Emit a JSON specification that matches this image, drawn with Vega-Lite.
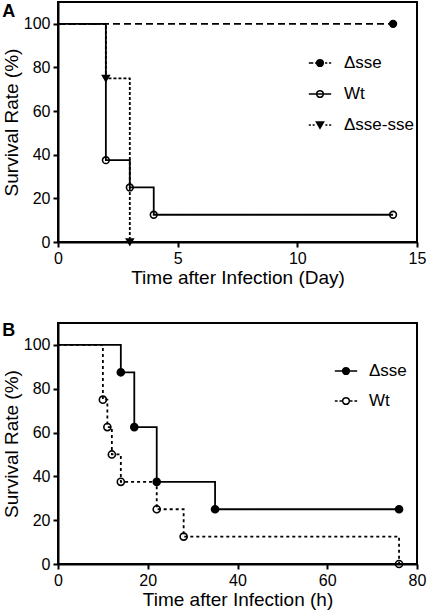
{
  "$schema": "https://vega.github.io/schema/vega-lite/v6.json",
  "padding": {"left": 1, "top": 1, "right": 0, "bottom": 0},
  "spacing": 33,
  "datasets": {
    "a": [
      {"group": "Δsse", "t": 0, "s": 100},
      {"group": "Δsse", "t": 14, "s": 100},
      {"group": "Δsse-sse", "t": 0, "s": 100},
      {"group": "Δsse-sse", "t": 2, "s": 75},
      {"group": "Δsse-sse", "t": 3, "s": 0},
      {"group": "Wt", "t": 0, "s": 100},
      {"group": "Wt", "t": 2, "s": 37.5},
      {"group": "Wt", "t": 3, "s": 25},
      {"group": "Wt", "t": 4, "s": 12.5},
      {"group": "Wt", "t": 14, "s": 12.5}
    ],
    "b": [
      {"group": "Δsse", "t": 0, "s": 100},
      {"group": "Δsse", "t": 14, "s": 87.5},
      {"group": "Δsse", "t": 17, "s": 62.5},
      {"group": "Δsse", "t": 22, "s": 37.5},
      {"group": "Δsse", "t": 35, "s": 25},
      {"group": "Δsse", "t": 76, "s": 25},
      {"group": "Wt", "t": 0, "s": 100},
      {"group": "Wt", "t": 10, "s": 75},
      {"group": "Wt", "t": 11, "s": 62.5},
      {"group": "Wt", "t": 12, "s": 50},
      {"group": "Wt", "t": 14, "s": 37.5},
      {"group": "Wt", "t": 22, "s": 25},
      {"group": "Wt", "t": 28, "s": 12.5},
      {"group": "Wt", "t": 76, "s": 0}
    ]
  },
  "resolve": {
    "scale": {"shape": "independent", "fill": "independent"},
    "legend": {"shape": "independent", "fill": "independent"}
  },
  "vconcat": [
    {
      "width": 359,
      "height": 240,
      "title": {"text": "A", "anchor": "start", "frame": "bounds", "dy": 23},
      "data": {"name": "a"},
      "layer": [
        {
          "mark": {"type": "line", "interpolate": "step-after", "color": "black", "strokeWidth": 1.8},
          "encoding": {
            "x": {"field": "t", "type": "quantitative", "scale": {"domain": [0, 15], "nice": false},
                  "axis": {"values": [0, 5, 10, 15], "title": "Time after Infection  (Day)"}},
            "y": {"field": "s", "type": "quantitative", "scale": {"domain": [0, 110], "nice": false},
                  "axis": {"values": [0, 20, 40, 60, 80, 100], "title": "Survival Rate  (%)"}},
            "detail": {"field": "group", "type": "nominal"},
            "strokeDash": {"condition": [
                              {"test": "datum.group === 'Δsse'", "value": [7, 4]},
                              {"test": "datum.group === 'Δsse-sse'", "value": [3, 2]}
                            ], "value": [1, 0]},
            "order": {"field": "t"}
          }
        },
        {
          "transform": [{"filter": "datum.t > 0"}],
          "mark": {"type": "point", "stroke": "black", "strokeWidth": 1.6, "size": 45, "opacity": 1},
          "encoding": {
            "x": {"field": "t", "type": "quantitative"},
            "y": {"field": "s", "type": "quantitative"},
            "fill": {"condition": {"test": "datum.group === 'Wt'", "value": "transparent"}, "value": "black"},
            "shape": {"condition": {"test": "datum.group === 'Δsse-sse'", "value": "triangle-down"}, "value": "circle"}
          }
        },
        {
          "transform": [{"filter": "false"}],
          "mark": {"type": "point", "stroke": "black", "strokeWidth": 1.5, "opacity": 1},
          "encoding": {
            "shape": {"field": "group", "type": "nominal",
                      "scale": {"domain": ["Δsse", "Wt", "Δsse-sse"],
                                "range": ["M-1,0H-0.6M-0.45,0H-0.2M0.45,0H0.65M0.8,0H1M0.3,0A0.3,0.3,0,1,1,-0.3,0A0.3,0.3,0,1,1,0.3,0Z",
                                          "M-1,0H1M0.3,0A0.3,0.3,0,1,1,-0.3,0A0.3,0.3,0,1,1,0.3,0Z",
                                          "M-1,0H-0.82M-0.66,0H-0.48M0.48,0H0.66M0.82,0H1M-0.32,-0.26L0.32,-0.26L0,0.3Z"]},
                      "legend": {"title": null, "orient": "none", "legendX": 250, "legendY": 49, "rowPadding": 11, "labelOffset": 12}},
            "fill": {"field": "group", "type": "nominal",
                     "scale": {"domain": ["Δsse", "Wt", "Δsse-sse"], "range": ["black", "transparent", "black"]},
                     "legend": {"title": null, "orient": "none", "legendX": 250, "legendY": 49, "rowPadding": 11, "labelOffset": 12}}
          }
        }
      ]
    },
    {
      "width": 359,
      "height": 241,
      "title": {"text": "B", "anchor": "start", "frame": "bounds", "dy": 21},
      "data": {"name": "b"},
      "layer": [
        {
          "mark": {"type": "line", "interpolate": "step-after", "color": "black", "strokeWidth": 1.8},
          "encoding": {
            "x": {"field": "t", "type": "quantitative", "scale": {"domain": [0, 80], "nice": false},
                  "axis": {"values": [0, 20, 40, 60, 80], "title": "Time after Infection  (h)"}},
            "y": {"field": "s", "type": "quantitative", "scale": {"domain": [0, 110], "nice": false},
                  "axis": {"values": [0, 20, 40, 60, 80, 100], "title": "Survival Rate  (%)"}},
            "detail": {"field": "group", "type": "nominal"},
            "strokeDash": {"condition": {"test": "datum.group === 'Wt'", "value": [3, 3]}, "value": [1, 0]},
            "order": {"field": "t"}
          }
        },
        {
          "transform": [{"filter": "datum.t > 0"}],
          "mark": {"type": "point", "shape": "circle", "stroke": "black", "strokeWidth": 1.6, "size": 50, "opacity": 1},
          "encoding": {
            "x": {"field": "t", "type": "quantitative"},
            "y": {"field": "s", "type": "quantitative"},
            "fill": {"condition": {"test": "datum.group === 'Wt'", "value": "transparent"}, "value": "black"}
          }
        },
        {
          "transform": [{"filter": "false"}],
          "mark": {"type": "point", "stroke": "black", "strokeWidth": 1.5, "opacity": 1},
          "encoding": {
            "shape": {"field": "group", "type": "nominal",
                      "scale": {"domain": ["Δsse", "Wt"],
                                "range": ["M-1,0H1M0.3,0A0.3,0.3,0,1,1,-0.3,0A0.3,0.3,0,1,1,0.3,0Z",
                                          "M-1,0H-0.75M-0.58,0H-0.34M0.34,0H0.58M0.75,0H1M0.3,0A0.3,0.3,0,1,1,-0.3,0A0.3,0.3,0,1,1,0.3,0Z"]},
                      "legend": {"title": null, "orient": "none", "legendX": 276, "legendY": 36, "rowPadding": 10, "labelOffset": 11}},
            "fill": {"field": "group", "type": "nominal",
                     "scale": {"domain": ["Δsse", "Wt"], "range": ["black", "transparent"]},
                     "legend": {"title": null, "orient": "none", "legendX": 276, "legendY": 36, "rowPadding": 10, "labelOffset": 11}}
          }
        }
      ]
    }
  ],
  "config": {
    "font": "Liberation Sans",
    "view": {"stroke": "black", "strokeWidth": 2},
    "axis": {
      "grid": false, "domainColor": "black", "domainWidth": 2, "tickColor": "black", "tickWidth": 2,
      "tickSize": 5, "labelFontSize": 16, "labelColor": "black", "labelPadding": 3, "labelFlush": false,
      "titleFontSize": 19, "titleFontWeight": "normal", "titleColor": "black", "titlePadding": 2
    },
    "legend": {
      "symbolSize": 500, "symbolStrokeWidth": 1.5,
      "labelFontSize": 17, "labelFontWeight": "normal", "labelColor": "black"
    },
    "title": {"fontSize": 18, "fontWeight": "bold", "color": "black"}
  }
}
